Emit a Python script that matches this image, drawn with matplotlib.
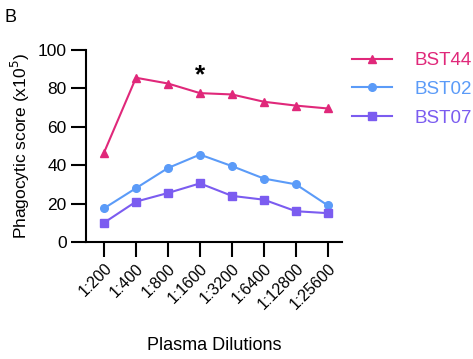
import numpy as np
import matplotlib.pyplot as plt

plt.rcParams["font.family"] = ["Liberation Sans", "DejaVu Sans"]

dilutions = ["1:200", "1:400", "1:800", "1:1600", "1:3200", "1:6400", "1:12800", "1:25600"]
bst44 = [46.5, 85.5, 82.5, 77.5, 76.8, 73.0, 71.0, 69.5]
bst02 = [17.5, 28.0, 38.5, 45.5, 39.5, 33.0, 30.0, 19.0]
bst07 = [10.0, 21.0, 25.5, 30.5, 24.0, 22.0, 16.0, 15.0]

series = [
    ("BST44", bst44, "#E0287A", "^"),
    ("BST02", bst02, "#5B9BF8", "o"),
    ("BST07", bst07, "#7B5CF0", "s"),
]

fig = plt.figure(figsize=(4.73, 3.59), dpi=100)
ax = fig.add_axes([0.182, 0.326, 0.541, 0.535])

x = np.arange(len(dilutions))
for name, vals, color, marker in series:
    ax.plot(x, vals, color=color, marker=marker, markersize=5.5, linewidth=1.5,
            label=name, clip_on=False)

# significance mark over the peak dilution
ax.text(3, 87, "*", ha="center", va="center", fontsize=19, fontweight="bold")

ax.set_xlim(-0.56, 7.44)
ax.set_ylim(0, 100)
ax.set_yticks([0, 20, 40, 60, 80, 100])
ax.set_xticks(x)
ax.set_xticklabels(dilutions, rotation=45, ha="right", rotation_mode="anchor", fontsize=11.5)
ax.tick_params(axis="y", labelsize=12.5, width=1.5, length=11, pad=3)
ax.tick_params(axis="x", width=1.5, length=10.5, pad=3)
for s in ["top", "right"]:
    ax.spines[s].set_visible(False)
for s in ["left", "bottom"]:
    ax.spines[s].set_linewidth(1.5)

ax.set_ylabel("Phagocytic score (x10$^5$)", fontsize=12.5, labelpad=4)
ax.set_xlabel("Plasma Dilutions", fontsize=13, labelpad=18)

leg = fig.legend(*ax.get_legend_handles_labels(), loc="upper left",
                 bbox_to_anchor=(0.744, 0.855), frameon=False, borderpad=0,
                 borderaxespad=0, fontsize=13.5, handlelength=2.13,
                 handletextpad=1.2, labelspacing=0.62)
for text, (_, _, color, _) in zip(leg.get_texts(), series):
    text.set_color(color)

fig.text(0.01, 0.94, "B", fontsize=13)

fig.savefig("out.png", dpi=100)
